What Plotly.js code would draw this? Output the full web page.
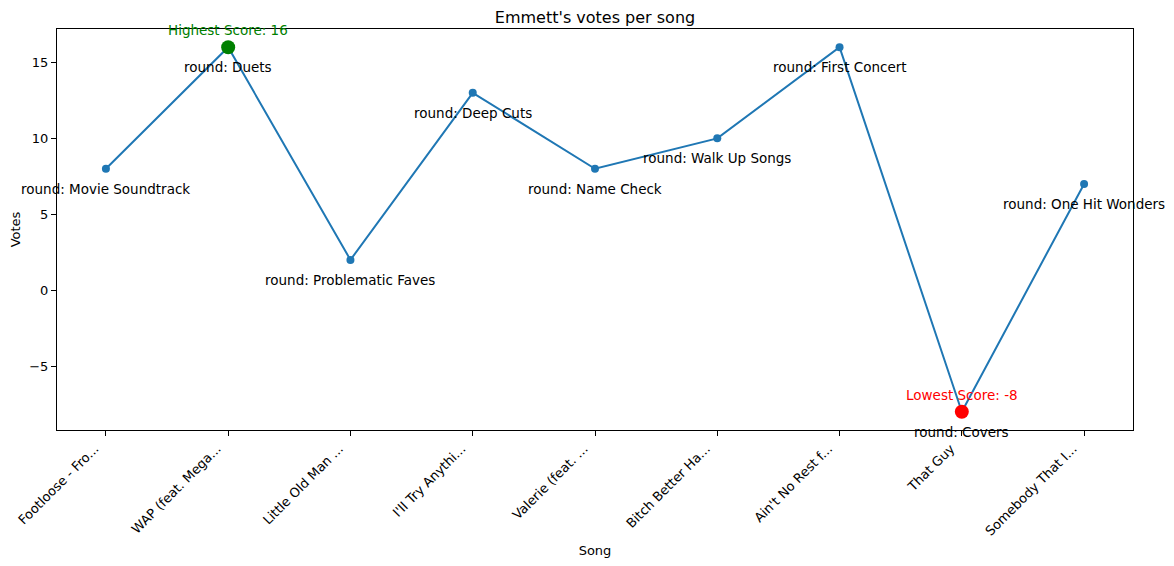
<!DOCTYPE html>
<html><head><meta charset="utf-8">
<script src="https://cdn.plot.ly/plotly-3.0.1.min.js"></script>
<style>body{margin:0;background:#fff}#c{width:1174px;height:566px}</style>
</head><body><div id="c"></div>
<script>
const songs = ["Footloose - Fro...", "WAP (feat. Mega...", "Little Old Man ...", "I'll Try Anythi...", "Valerie (feat. ...", "Bitch Better Ha...", "Ain't No Rest f...", "That Guy", "Somebody That I..."];
const votes = [8, 16, 2, 13, 8, 10, 16, -8, 7];
const rounds = ["Movie Soundtrack", "Duets", "Problematic Faves", "Deep Cuts", "Name Check", "Walk Up Songs", "First Concert", "Covers", "One Hit Wonders"];
const yTicks = [-5, 0, 5, 10, 15];

const xs = songs.map((s, i) => i);
const maxV = Math.max(...votes), minV = Math.min(...votes);
const iMax = votes.indexOf(maxV), iMin = votes.indexOf(minV);
const font = "DejaVu Sans, sans-serif";
const fs = 13.5;
const ts = 13;

const traces = [
  {x: xs, y: votes, mode: "lines+markers", type: "scatter",
   line: {color: "#1f77b4", width: 2}, marker: {color: "#1f77b4", size: 8}, hoverinfo: "skip"},
  {x: [iMax], y: [maxV], mode: "markers", type: "scatter", marker: {color: "green", size: 14}},
  {x: [iMin], y: [minV], mode: "markers", type: "scatter", marker: {color: "red", size: 14}}
];

const annotations = rounds.map((r, i) => ({
  x: i, y: votes[i], xref: "x", yref: "y", text: "round: " + r, showarrow: false,
  yanchor: "middle", xanchor: "center", yshift: -20, font: {family: font, size: fs, color: "black"}
}));
annotations.push({x: iMax, y: maxV, xref: "x", yref: "y", text: "Highest Score: " + maxV, showarrow: false,
  yanchor: "middle", xanchor: "center", yshift: 17, font: {family: font, size: fs, color: "green"}});
annotations.push({x: iMin, y: minV, xref: "x", yref: "y", text: "Lowest Score: " + minV, showarrow: false,
  yanchor: "middle", xanchor: "center", yshift: 17, font: {family: font, size: fs, color: "red"}});

const layout = {
  width: 1174, height: 566, showlegend: false,
  margin: {l: 57, r: 41, t: 29, b: 136},
  paper_bgcolor: "white", plot_bgcolor: "white",
  font: {family: font, size: ts, color: "black"},
  title: {text: "Emmett's votes per song", font: {family: font, size: 16, color: "black"}, x: 0.5, xanchor: "center", xref: "paper", y: 1 - 17/566, yanchor: "middle", yref: "container"},
  xaxis: {
    range: [-0.4, 8.4], tickmode: "array", tickvals: xs, ticktext: songs, tickangle: -45,
    ticklabelshift: -11,
    showgrid: false, zeroline: false, showline: true, linecolor: "black", linewidth: 1, mirror: true,
    ticks: "outside", ticklen: 5, tickcolor: "black", tickfont: {family: font, size: ts},
    title: {text: "Song", font: {family: font, size: ts}, standoff: 8}
  },
  yaxis: {
    range: [-9.2, 17.2], tickmode: "array", tickvals: yTicks, ticktext: yTicks.map(v => v < 0 ? "\u2212" + (-v) : String(v)),
    showgrid: false, zeroline: false, showline: true, linecolor: "black", linewidth: 1, mirror: true,
    ticks: "outside", ticklen: 5, tickcolor: "black", tickfont: {family: font, size: ts},
    title: {text: "Votes", font: {family: font, size: ts}, standoff: 5}
  },
  annotations: annotations
};
Plotly.newPlot("c", traces, layout, {displayModeBar: false, staticPlot: true});
</script></body></html>
